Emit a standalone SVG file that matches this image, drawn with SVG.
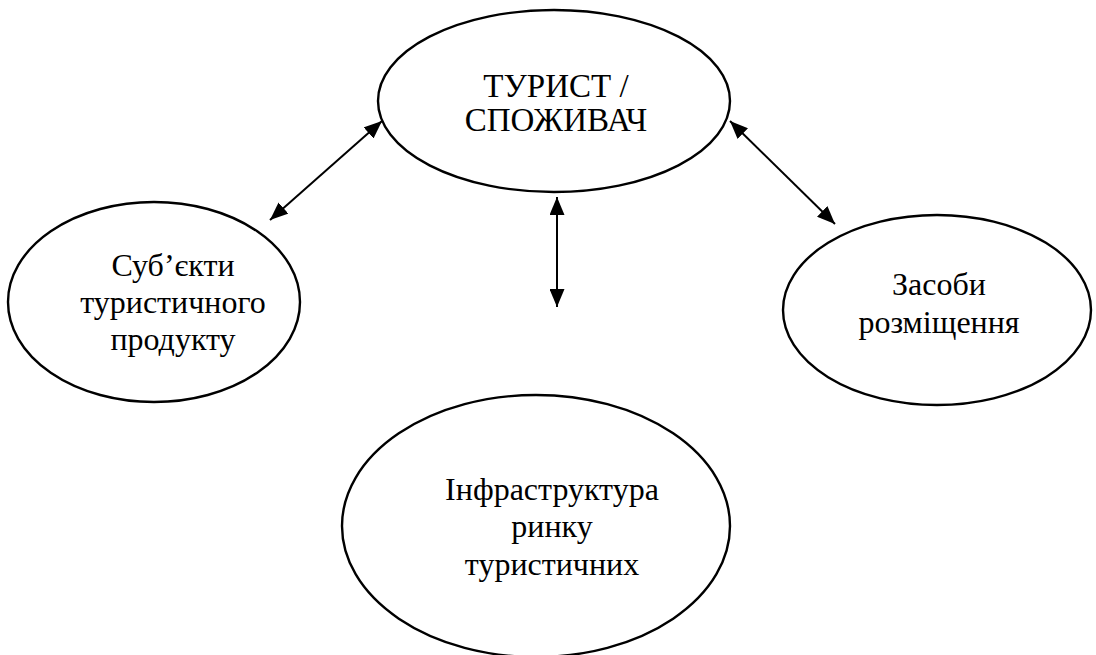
<svg xmlns="http://www.w3.org/2000/svg" width="1096" height="655" viewBox="0 0 1096 655">
<style>
.node ellipse{fill:#fff;stroke:#000;stroke-width:2.4}
.node text{font-family:"Times New Roman","Liberation Serif",Tinos,"DejaVu Serif",serif;font-size:32px;fill:#000;text-anchor:middle}
.conn line{stroke:#000;stroke-width:2}
</style>
<defs>
<marker id="ah" viewBox="0 0 10 10" refX="10" refY="5" markerWidth="18" markerHeight="15" markerUnits="userSpaceOnUse" orient="auto-start-reverse" preserveAspectRatio="none">
<path d="M0,0 L10,5 L0,10 z" fill="#000"/>
</marker>
</defs>
<rect width="1096" height="655" fill="#fff"/>
<g class="conn">
<line x1="270" y1="220" x2="382" y2="121" marker-start="url(#ah)" marker-end="url(#ah)"/>
<line x1="730" y1="121" x2="835" y2="224" marker-start="url(#ah)" marker-end="url(#ah)"/>
<line x1="557" y1="197" x2="557" y2="307" marker-start="url(#ah)" marker-end="url(#ah)"/>
</g>
<g id="tourist" class="node">
<ellipse cx="554" cy="101" rx="176" ry="91"/>
<text x="556" y="97" style="font-size:33px">ТУРИСТ /</text>
<text x="556" y="131" style="font-size:33px">СПОЖИВАЧ</text>
</g>
<g id="subjects" class="node">
<ellipse cx="154" cy="302" rx="146" ry="100"/>
<text x="173" y="276">Суб’єкти</text>
<text x="173" y="313">туристичного</text>
<text x="173" y="350">продукту</text>
</g>
<g id="accommodation" class="node">
<ellipse cx="937" cy="310" rx="154" ry="95"/>
<text x="939" y="295">Засоби</text>
<text x="939" y="333">розміщення</text>
</g>
<g id="infrastructure" class="node">
<ellipse cx="536" cy="526" rx="194" ry="131"/>
<text x="552" y="500">Інфраструктура</text>
<text x="552" y="537">ринку</text>
<text x="552" y="575">туристичних</text>
</g>
</svg>
